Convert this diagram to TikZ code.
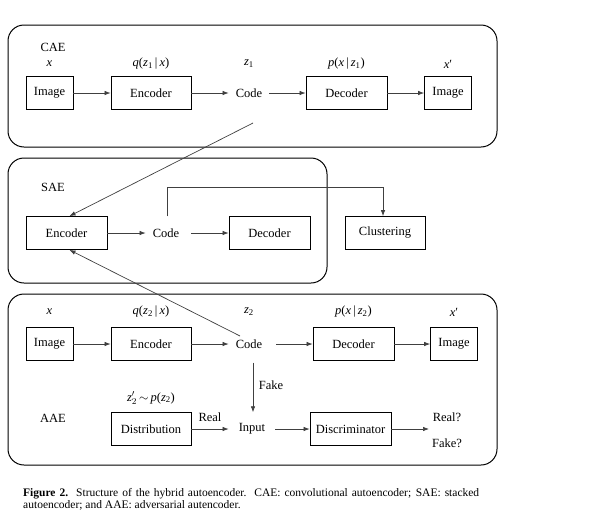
\documentclass[tikz,border=0pt]{standalone}
\usepackage{fontspec}
\setmainfont{Liberation Serif}
\usetikzlibrary{arrows.meta,calc}
\begin{document}
\begin{tikzpicture}[x=1pt,y=-1pt,
  every node/.style={font=\fontsize{12.5}{14}\selectfont, inner sep=0pt},
  blk/.style={draw, line width=0.8pt, minimum height=33pt, minimum width=80pt},
  imgblk/.style={blk, minimum width=47pt},
  txt/.style={minimum height=33pt, inner xsep=8pt},
  group/.style={draw, line width=1pt, rounded corners=16pt},
  arr/.style={draw=black!75, line width=0.7pt, -{Latex[length=6pt,width=4.5pt]}},
  lbl/.style={}]
\useasboundingbox (0,0) rectangle (610,525);
% groups
\draw[group] (8,25) rectangle (497,147);
\draw[group] (8,158) rectangle (327,283);
\draw[group] (8,294) rectangle (497,465);
% ---------- CAE ----------
\node[lbl] (caelbl) at (53,47) {CAE};
\node[imgblk] (img1) at (49.5,93) {Image};
\node[blk] (enc1) at (151,93) {Encoder};
\node[txt, inner xsep=7pt] (code1) at (249,93) {Code};
\node[blk, minimum width=81pt] (dec1) at (346.5,93) {Decoder};
\node[imgblk] (out1) at (448,93) {Image};
\node (x1) at (49.5,64) {\textit{x}};
\node (q1) at (151,64) {\textit{q}(\textit{z}\textsubscript{1}\,|\,\textit{x})};
\node (z1) at (249,64) {\textit{z}\textsubscript{1}};
\node (p1) at (346.5,64) {\textit{p}(\textit{x}\,|\,\textit{z}\textsubscript{1})};
\node (xp1) at (448,64) {\textit{x}′};
\draw[arr] (img1) -- (enc1);
\draw[arr] (enc1) -- (code1);
\draw[arr] (code1) -- (dec1);
\draw[arr] (dec1) -- (out1);
% ---------- SAE ----------
\node[lbl] (saelbl) at (53,187) {SAE};
\node[blk, minimum width=81pt] (enc2) at (66.5,233) {Encoder};
\node[txt, inner xsep=7pt] (code2) at (166,233) {Code};
\node[blk, minimum width=81pt] (dec2) at (269.5,233) {Decoder};
\node[blk] (clust) at (385,233) {Clustering};
\draw[arr] (enc2) -- (code2);
\draw[arr] ([xshift=5pt]code2.east) -- (dec2);
\draw[arr] ([xshift=1pt]code2.north) -- ++(0,-29) -| ([xshift=-2pt]clust.north);
% ---------- AAE ----------
\node[imgblk] (img3) at (49.5,344) {Image};
\node[blk] (enc3) at (151,344) {Encoder};
\node[txt, inner xsep=7pt] (code3) at (249,344) {Code};
\node[blk, minimum width=81pt] (dec3) at (353.5,344) {Decoder};
\node[imgblk] (out3) at (454,344) {Image};
\node (x3) at (49.5,312) {\textit{x}};
\node (q3) at (151,312) {\textit{q}(\textit{z}\textsubscript{2}\,|\,\textit{x})};
\node (z3) at (249,312) {\textit{z}\textsubscript{2}};
\node (p3) at (353.5,312) {\textit{p}(\textit{x}\,|\,\textit{z}\textsubscript{2})};
\node (xp3) at (454,312) {\textit{x}′};
\draw[arr] (img3) -- (enc3);
\draw[arr] (enc3) -- (code3);
\draw[arr] ([xshift=7pt]code3.east) -- (dec3);
\draw[arr] (dec3) -- (out3);
\node[lbl] (aaelbl) at (53,418) {AAE};
\node (zp) at (151,398) {\textit{z}$'_2$\,$\sim$\,\textit{p}(\textit{z}\textsubscript{2})};
\node[blk] (dist) at (151,429) {Distribution};
\node[txt, inner xsep=10pt] (input) at (252,429) {Input};
\node[blk, minimum width=81pt] (disc) at (350.5,429) {Discriminator};
\node (real) at (210,417) {Real};
\node (fake) at (271,385) {Fake};
\node (realq) at (447,417) {Real?};
\node (fakeq) at (447,443) {Fake?};
\coordinate (discout) at (429,429);
\draw[arr] (dist) -- (input);
\draw[arr] (input) -- (disc);
\draw[arr] (disc) -- (discout);
\draw[arr] ([xshift=4pt,yshift=-2pt]code3.south) -- ([xshift=1pt]input.north);
% ---------- cross links ----------
\coordinate (c1tail) at (253,123);
\coordinate (c3tail) at (240,336);
\draw[arr] (c1tail) -- ([xshift=3pt]enc2.north);
\draw[arr] (c3tail) -- ([xshift=3pt]enc2.south);
% ---------- caption ----------
\node[anchor=north west, text width=456pt, align=justify,
  font=\fontsize{11.5}{12}\selectfont] (cap) at (23,488)
  {\textbf{Figure 2.}\ \ Structure of the hybrid autoencoder.\ \ CAE: convolutional autoencoder; SAE: stacked\linebreak autoencoder; and AAE: adversarial autencoder.};
\end{tikzpicture}
\end{document}
